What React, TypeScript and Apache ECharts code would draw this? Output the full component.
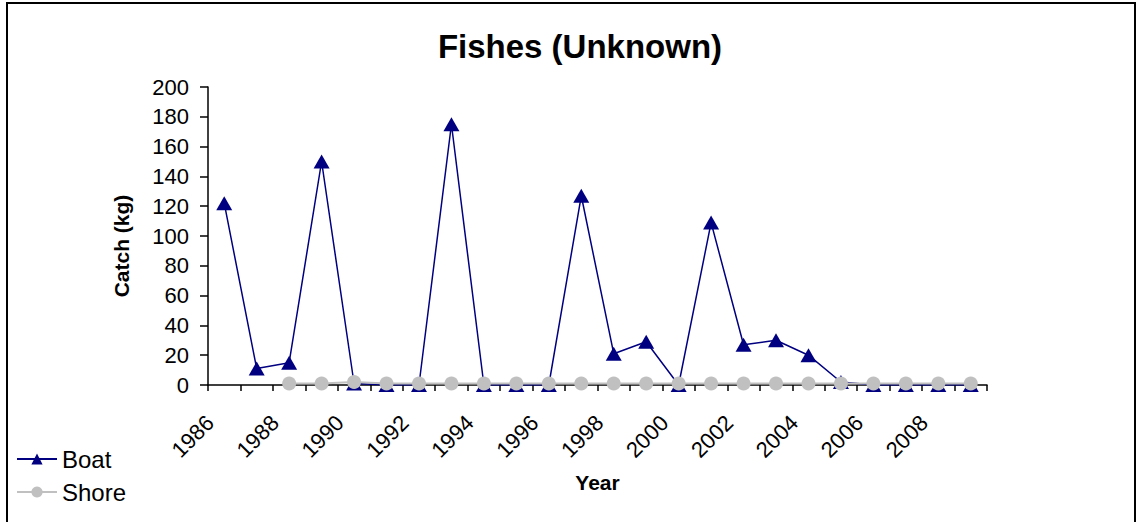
import React, { useEffect, useRef } from "react";
import * as echarts from "echarts";

const years = [
  "1986", "1987", "1988", "1989", "1990", "1991", "1992", "1993", "1994", "1995", "1996", "1997",
  "1998", "1999", "2000", "2001", "2002", "2003", "2004", "2005", "2006", "2007", "2008", "2009",
];
const boat = [122, 11, 15, 150, 1, 0, 0, 175, 0, 0, 0, 127, 21, 29, 0, 109, 27, 30, 20, 2, 0, 0, 0, 0];
const shore = [null, null, 1, 1, 2, 1, 1, 1, 1, 1, 1, 1, 1, 1, 1, 1, 1, 1, 1, 1, 1, 1, 1, 1];
const yTicks = { min: 0, max: 200, interval: 20 };

export default function App() {
  const ref = useRef<HTMLDivElement>(null);
  useEffect(() => {
    const chart = echarts.init(ref.current!, null, { renderer: "svg" });
    const font = "Arial, 'Liberation Sans', sans-serif";
    chart.setOption({
      animation: false,
      backgroundColor: "#fff",
      textStyle: { fontFamily: font },
      title: {
        text: "Fishes (Unknown)",
        left: 575,
        textAlign: "center",
        top: 25,
        textStyle: { fontSize: 33, fontWeight: "bold", color: "#000", fontFamily: font },
      },
      graphic: [
        {
          type: "rect",
          shape: { x: 7, y: 3, width: 1128, height: 530 },
          style: { fill: "none", stroke: "#000", lineWidth: 2 },
          silent: true,
        },
      ],
      legend: {
        orient: "vertical",
        left: 11,
        top: 442,
        itemWidth: 40,
        itemHeight: 14,
        itemGap: 9,
        textStyle: { fontSize: 24, color: "#000", fontFamily: font },
        data: ["Boat", "Shore"],
      },
      grid: { left: 208, top: 87, width: 779, height: 298, containLabel: false },
      xAxis: {
        type: "category",
        data: years,
        boundaryGap: true,
        name: "Year",
        nameLocation: "middle",
        nameGap: 87,
        nameTextStyle: { fontSize: 21, fontWeight: "bold", color: "#000", fontFamily: font },
        axisLine: { lineStyle: { color: "#000", width: 1.5 } },
        axisTick: { show: true, interval: 0, length: 6, lineStyle: { color: "#000", width: 1.5 } },
        axisLabel: {
          interval: 1,
          rotate: 45,
          margin: 20,
          padding: [0, 20, 0, 0],
          fontSize: 22,
          color: "#000",
          fontFamily: font,
        },
        splitLine: { show: false },
      },
      yAxis: {
        type: "value",
        min: yTicks.min,
        max: yTicks.max,
        interval: yTicks.interval,
        name: "Catch (kg)",
        nameLocation: "middle",
        nameGap: 76,
        nameTextStyle: {
          fontSize: 21,
          fontWeight: "bold",
          color: "#000",
          fontFamily: font,
          padding: [0, 20, 0, 0],
        },
        axisLine: { show: true, lineStyle: { color: "#000", width: 1.5 } },
        axisTick: { show: true, length: 8, lineStyle: { color: "#000", width: 1.5 } },
        axisLabel: { fontSize: 22, color: "#000", margin: 19, fontFamily: font },
        splitLine: { show: false },
      },
      series: [
        {
          name: "Boat",
          type: "line",
          data: boat,
          symbol: "triangle",
          symbolSize: [16, 14],
          itemStyle: { color: "#000080" },
          lineStyle: { color: "#000080", width: 1.5 },
        },
        {
          name: "Shore",
          type: "line",
          data: shore,
          symbol: "circle",
          symbolSize: 14,
          itemStyle: { color: "#C0C0C0" },
          lineStyle: { color: "#C0C0C0", width: 2 },
        },
      ],
    });
    return () => chart.dispose();
  }, []);
  return (
    <div
      ref={ref}
      style={{ position: "fixed", left: 0, top: 0, width: 1137, height: 522 }}
    />
  );
}
